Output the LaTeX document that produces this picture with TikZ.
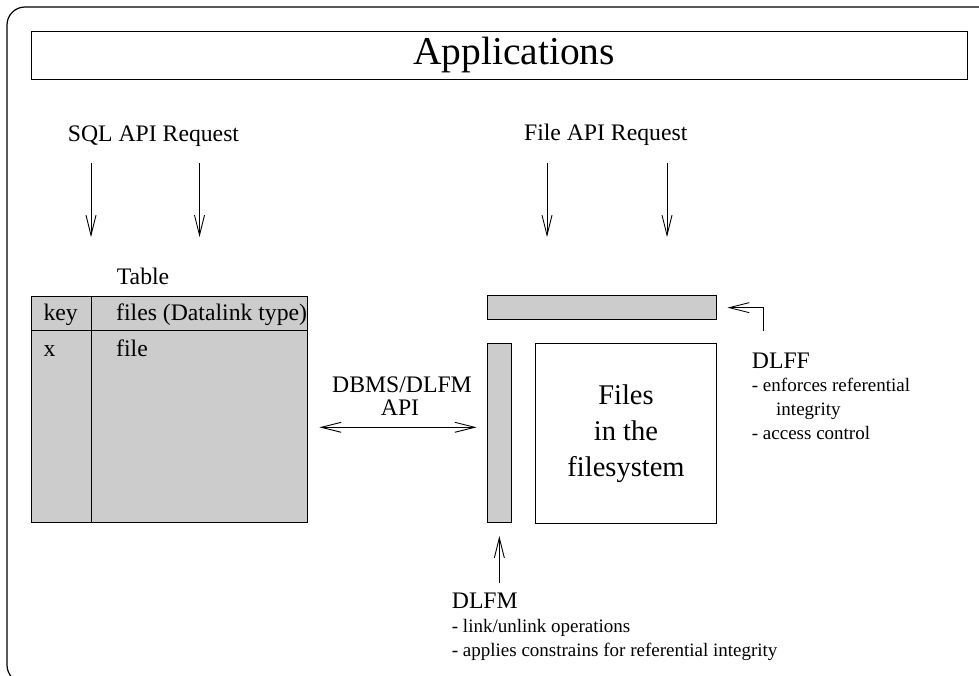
\documentclass[tikz,border=0pt]{standalone}
\usepackage{fontspec}
\setmainfont{Liberation Serif}
\usetikzlibrary{arrows.meta}
\definecolor{boxgray}{RGB}{204,204,204}
\tikzset{
  lbl/.style={inner sep=0pt, anchor=base west},
  clbl/.style={inner sep=0pt, anchor=base},
  head/.style={font=\fontsize{23.7}{28}\selectfont},
  small/.style={font=\fontsize{19}{23.7}\selectfont},
  arr/.style={line width=0.9pt, -{Straight Barb[length=20pt,width=10pt]}},
  dblarr/.style={line width=0.9pt, {Straight Barb[length=20pt,width=10pt]}-{Straight Barb[length=20pt,width=10pt]}},
  grayfill/.style={draw, line width=1pt, fill=boxgray, inner sep=0pt, anchor=north west},
  whitebox/.style={draw, line width=1pt, inner sep=0pt, anchor=north west},
}
\begin{document}
\begin{tikzpicture}[x=1pt,y=-1pt]
\useasboundingbox (0,0) rectangle (979,675);
\begin{scope}
\clip (0,0) rectangle (979,675);
\draw[line width=1.2pt, rounded corners=18pt] (1010,683) -- (7,683) -- (7,7) -- (1010,7);
\end{scope}

% Applications
\node[whitebox, minimum width=936pt, minimum height=48pt] (apps) at (31,31) {};
\node[clbl, font=\fontsize{39.5}{46}\selectfont] (appstxt) at (514,64) {Applications};

% requests
\node[head, clbl] (sql) at (153.5,141) {SQL API Request};
\node[head, clbl] (fapi) at (605.7,140) {File API Request};
\coordinate (s1a) at (91,163);  \coordinate (s1b) at (91,237);
\coordinate (s2a) at (199.5,163); \coordinate (s2b) at (199.5,237);
\coordinate (f1a) at (547,163); \coordinate (f1b) at (547,237);
\coordinate (f2a) at (667,163); \coordinate (f2b) at (667,237);
\draw[arr] (s1a) -- (s1b);
\draw[arr] (s2a) -- (s2b);
\draw[arr] (f1a) -- (f1b);
\draw[arr] (f2a) -- (f2b);

% table
\node[head, lbl] (tbllabel) at (116.7,284) {Table};
\node[grayfill, minimum width=276pt, minimum height=226pt] (table) at (31,296) {};
\coordinate (colx) at (91,0);
\coordinate (rowy) at (0,330.5);
\draw[line width=1pt] (table.north -| colx) -- (table.south -| colx);
\draw[line width=1pt] (table.west |- rowy) -- (table.east |- rowy);
\node[head, lbl] (key) at (43.3,320) {key};
\node[head, lbl] (files) at (116,320) {files (Datalink type)};
\node[head, lbl] (xval) at (43.3,356) {x};
\node[head, lbl] (fileval) at (116,356) {file};

% right side boxes
\node[grayfill, minimum width=229pt, minimum height=24.3pt] (topbar) at (486.7,295) {};
\node[grayfill, minimum width=24.3pt, minimum height=178.7pt] (vbar) at (486.7,343.3) {};
\node[whitebox, minimum width=180.4pt, minimum height=179.7pt, align=center,
      font=\fontsize{28.5}{35.7}\selectfont] (fsbox) at (535.3,343.3) {Files\\in the\\filesystem};

% DBMS/DLFM API
\node[head, clbl] (dbms) at (402,392.3) {DBMS/DLFM};
\node[head, clbl] (api) at (400,415.7) {API};
\coordinate (apiy) at (0,427.3);
\draw[dblarr, shorten <=11.3pt, shorten >=10pt] (table.east |- apiy) -- (vbar.west |- apiy);

% DLFF
\coordinate (dlffstart) at (763.3,331);
\draw[arr, shorten >=10.7pt] (dlffstart) |- (topbar.east);
\node[head, lbl] (dlff) at (751.7,368.3) {DLFF};
\node[small, lbl] (dlff1) at (751.7,391.7) {- enforces referential};
\node[small, lbl] (dlff2) at (776,415) {integrity};
\node[small, lbl] (dlff3) at (751.7,439) {- access control};

% DLFM
\coordinate (dlfmstart) at (vbar.south |- 0,583.3);
\draw[arr, shorten >=13pt] (dlfmstart) -- (vbar.south);
\node[head, lbl] (dlfm) at (451.7,608.3) {DLFM};
\node[small, lbl] (dlfm1) at (451.7,632) {- link/unlink operations};
\node[small, lbl] (dlfm2) at (451.7,656) {- applies constrains for referential integrity};
\end{tikzpicture}
\end{document}
